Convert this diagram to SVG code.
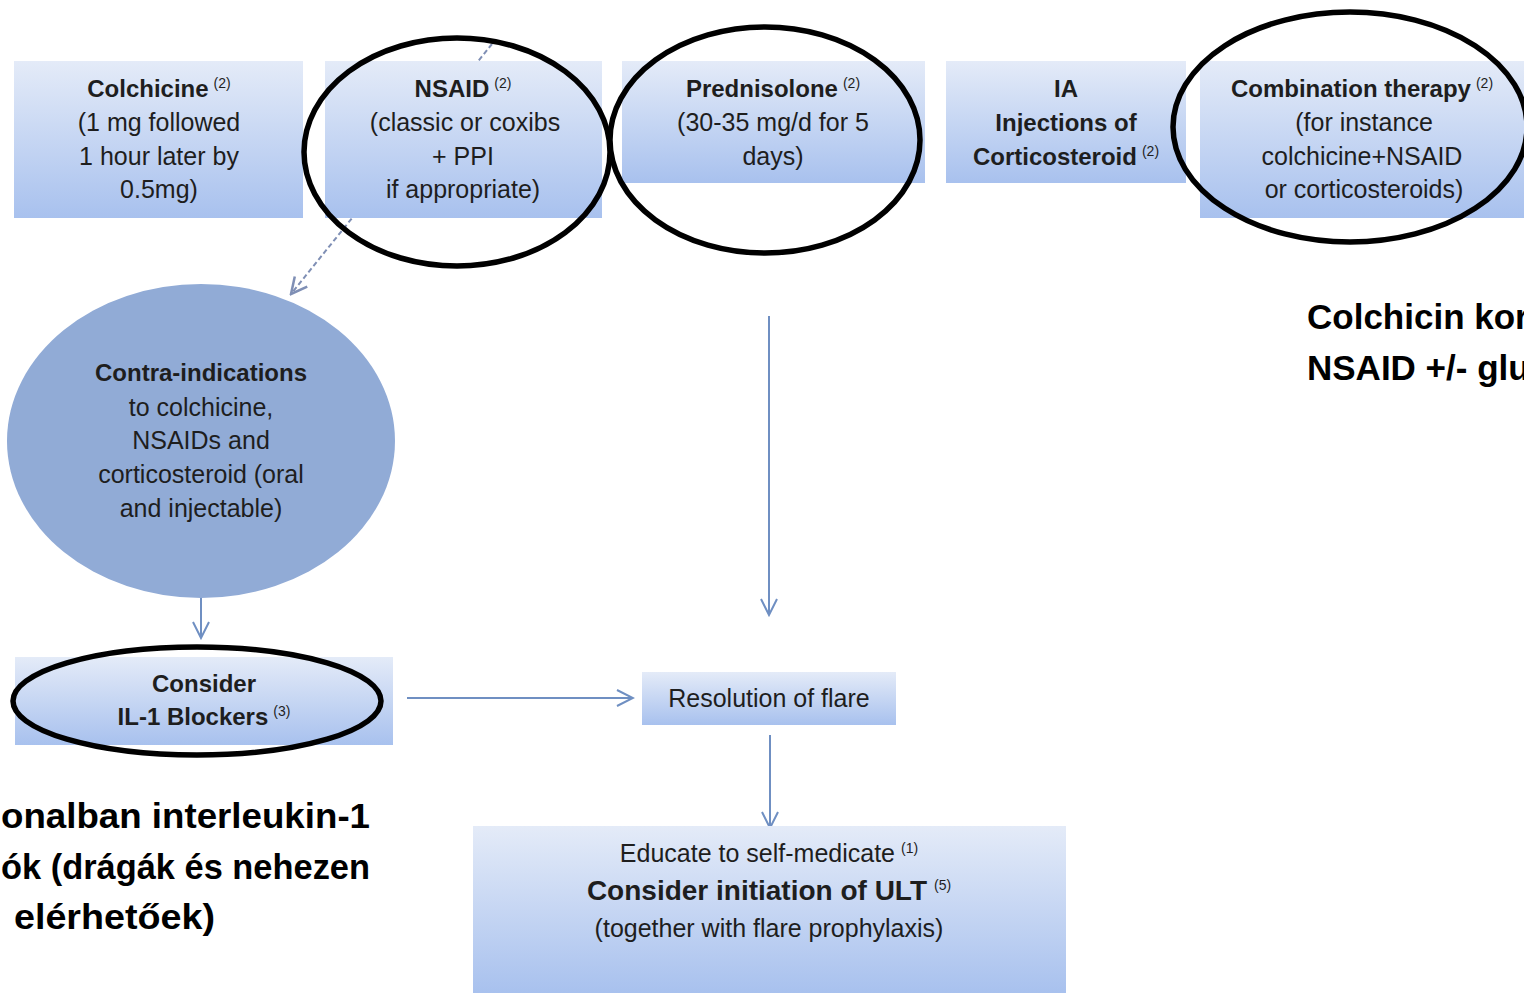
<svg xmlns="http://www.w3.org/2000/svg" width="1524" height="993" viewBox="0 0 1524 993">
<defs>
<linearGradient id="bg" x1="0" y1="0" x2="0" y2="1">
<stop offset="0" stop-color="#e4ebf8"/>
<stop offset="1" stop-color="#a8c1ee"/>
</linearGradient>
<marker id="ah" viewBox="0 0 20 20" refX="18" refY="10" markerWidth="20" markerHeight="20" markerUnits="userSpaceOnUse" orient="auto">
<path d="M2,2 L18,10 L2,18" fill="none" stroke="#6f8fc2" stroke-width="2"/>
</marker>
<marker id="ahd" viewBox="0 0 20 20" refX="18" refY="10" markerWidth="20" markerHeight="20" markerUnits="userSpaceOnUse" orient="auto">
<path d="M2,2 L18,10 L2,18" fill="none" stroke="#7f8fb5" stroke-width="2.5"/>
</marker>
</defs>
<style>
.box{fill:url(#bg);}
.t{font-family:"Liberation Sans",Arial,sans-serif;fill:#1e1e1e;text-anchor:middle;}
.b{font-weight:bold;font-size:24px;}
.r{font-size:25px;}
.sup{font-size:14px;font-weight:normal;}
.ring{fill:none;stroke:#000;stroke-width:5.5;}
.conn{stroke:#6f8fc2;stroke-width:2;fill:none;marker-end:url(#ah);}
.hu{font-family:"Liberation Sans",Arial,sans-serif;font-weight:bold;font-size:35px;fill:#000;}
</style>
<rect width="1524" height="993" fill="#fff"/>

<g id="connectors">
<line x1="492" y1="44" x2="291" y2="294" stroke="#7f8fb5" stroke-width="2" stroke-dasharray="5,3" marker-end="url(#ahd)"/>
<line class="conn" x1="769" y1="316" x2="769" y2="615"/>
<line class="conn" x1="201" y1="597" x2="201" y2="638"/>
<line class="conn" x1="407" y1="698" x2="633" y2="698"/>
<line class="conn" x1="770" y1="735" x2="770" y2="828"/>
</g>

<g id="colchicine">
<rect class="box" x="14" y="61" width="289" height="157"/>
<text class="t b" x="159" y="97">Colchicine<tspan class="sup" dx="5" dy="-9">(2)</tspan></text>
<text class="t r" x="159" y="131">(1 mg  followed</text>
<text class="t r" x="159" y="165">1 hour later by</text>
<text class="t r" x="159" y="198">0.5mg)</text>
</g>

<g id="nsaid">
<rect class="box" x="325" y="61" width="277" height="157"/>
<text class="t b" x="463" y="97">NSAID<tspan class="sup" dx="5" dy="-9">(2)</tspan></text>
<text class="t r" x="465" y="131">(classic or coxibs</text>
<text class="t r" x="463" y="165">+ PPI</text>
<text class="t r" x="463" y="198">if appropriate)</text>
<ellipse class="ring" cx="457" cy="152" rx="153" ry="114"/>
</g>

<g id="prednisolone">
<rect class="box" x="622" y="61" width="303" height="122"/>
<text class="t b" x="773" y="97">Prednisolone<tspan class="sup" dx="5" dy="-9">(2)</tspan></text>
<text class="t r" x="773" y="131">(30-35 mg/d for 5</text>
<text class="t r" x="773" y="165">days)</text>
<ellipse class="ring" cx="765" cy="140" rx="155" ry="113"/>
</g>

<g id="ia">
<rect class="box" x="946" y="61" width="240" height="122"/>
<text class="t b" x="1066" y="97">IA</text>
<text class="t b" x="1066" y="131">Injections  of</text>
<text class="t b" x="1066" y="165">Corticosteroid<tspan class="sup" dx="5" dy="-9">(2)</tspan></text>
</g>

<g id="combination">
<rect class="box" x="1200" y="61" width="324" height="157"/>
<text class="t b" x="1362" y="97">Combination therapy<tspan class="sup" dx="5" dy="-9">(2)</tspan></text>
<text class="t r" x="1364" y="131">(for instance</text>
<text class="t r" x="1362" y="165">colchicine+NSAID</text>
<text class="t r" x="1364" y="198">or corticosteroids)</text>
<ellipse class="ring" cx="1350" cy="127" rx="177" ry="115"/>
</g>

<g id="contra">
<ellipse cx="201" cy="441" rx="194" ry="157" fill="#91abd6"/>
<text class="t" x="201" y="381" font-weight="bold" font-size="24">Contra-indications</text>
<text class="t" x="201" y="416" font-size="25">to  colchicine,</text>
<text class="t" x="201" y="449" font-size="25">NSAIDs and</text>
<text class="t" x="201" y="483" font-size="25">corticosteroid (oral</text>
<text class="t" x="201" y="517" font-size="25">and injectable)</text>
</g>

<g id="il1">
<rect class="box" x="15" y="657" width="378" height="88"/>
<text class="t b" x="204" y="692">Consider</text>
<text class="t b" x="204" y="725">IL-1 Blockers<tspan class="sup" dx="5" dy="-9">(3)</tspan></text>
<ellipse class="ring" cx="197" cy="701" rx="184" ry="54"/>
</g>

<g id="resolution">
<rect class="box" x="642" y="672" width="254" height="53"/>
<text class="t r" x="769" y="707">Resolution of flare</text>
</g>

<g id="educate">
<rect class="box" x="473" y="826" width="593" height="167"/>
<text class="t r" x="769" y="862">Educate to self-medicate<tspan class="sup" dx="6" dy="-9">(1)</tspan></text>
<text class="t" x="769" y="900" font-weight="bold" font-size="28">Consider initiation of ULT<tspan class="sup" dx="7" dy="-10">(5)</tspan></text>
<text class="t r" x="769" y="937">(together with flare prophylaxis)</text>
</g>

<g id="note-left">
<text class="hu" x="1" y="828" textLength="369" lengthAdjust="spacingAndGlyphs">onalban interleukin-1</text>
<text class="hu" x="1" y="879" textLength="369" lengthAdjust="spacingAndGlyphs">ók (drágák és nehezen</text>
<text class="hu" x="14" y="929" textLength="201" lengthAdjust="spacingAndGlyphs">elérhetőek)</text>
</g>

<g id="note-right">
<text class="hu" x="1307" y="329">Colchicin kor</text>
<text class="hu" x="1307" y="380">NSAID +/- glu</text>
</g>
</svg>
